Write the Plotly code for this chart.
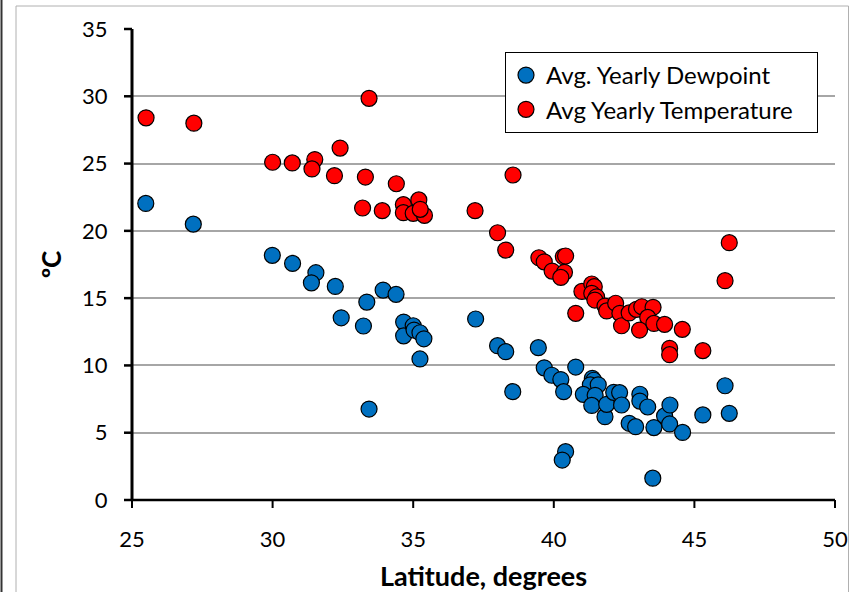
import plotly.graph_objects as go

# Avg Yearly Temperature (red)
temp_lat = [25.5, 27.2, 30.0, 30.7, 31.5, 31.4, 32.4, 32.2, 33.3, 34.4, 33.2, 33.9, 34.65, 35.2,
            34.65, 35.0, 35.4, 35.25, 37.2, 33.43, 38.55, 38.0, 38.29, 39.47, 39.66, 40.34, 40.42,
            39.94, 40.38, 40.25, 40.78, 41.0, 41.35, 41.44, 41.35, 41.52, 41.46, 41.82, 41.88, 42.2,
            42.35, 42.41, 42.68, 42.94, 43.13, 43.53, 43.34, 43.05, 43.56, 43.94, 44.57, 44.12,
            44.12, 45.3, 46.09, 46.24]
temp_val = [28.4, 28.0, 25.1, 25.05, 25.3, 24.6, 26.15, 24.1, 24.0, 23.5, 21.7, 21.5, 21.95, 22.3,
            21.35, 21.3, 21.15, 21.6, 21.5, 29.85, 24.15, 19.86, 18.57, 18.0, 17.7, 18.08, 18.13,
            17.01, 16.92, 16.54, 13.87, 15.5, 16.05, 15.85, 15.36, 15.1, 14.86, 14.41, 14.05, 14.62,
            13.87, 12.95, 13.9, 14.17, 14.36, 14.32, 13.57, 12.63, 13.12, 13.05, 12.68, 11.27,
            10.8, 11.1, 16.3, 19.12]

# Avg Yearly Dewpoint (blue)
dew_lat = [25.49, 27.18, 29.99, 30.71, 31.54, 31.38, 32.23, 33.35, 33.93, 34.39, 32.44, 33.23,
           34.66, 34.66, 35.0, 35.03, 35.24, 35.38, 35.24, 33.43, 37.22, 38.0, 38.29, 39.45, 39.66,
           39.93, 40.25, 40.35, 40.78, 38.54, 41.37, 41.42, 41.3, 41.58, 41.05, 41.47, 41.35,
           41.82, 41.88, 42.13, 42.34, 42.41, 42.68, 42.91, 43.06, 43.06, 43.34, 43.56, 43.94,
           44.13, 44.12, 44.58, 45.3, 46.09, 46.24, 40.42, 40.3, 43.52]
dew_val = [22.04, 20.5, 18.18, 17.58, 16.89, 16.14, 15.87, 14.71, 15.6, 15.28, 13.54, 12.93,
           13.22, 12.2, 12.95, 12.63, 12.43, 11.98, 10.48, 6.76, 13.45, 11.47, 11.02, 11.32, 9.82,
           9.27, 8.95, 8.05, 9.88, 8.05, 9.04, 8.9, 8.56, 8.56, 7.85, 7.78, 7.03,
           6.19, 7.11, 8.0, 7.98, 7.06, 5.7, 5.45, 7.86, 7.35, 6.91, 5.38, 6.25,
           7.06, 5.65, 5.02, 6.32, 8.49, 6.44, 3.59, 2.97, 1.62]

x_ticks = [25, 30, 35, 40, 45, 50]
y_ticks = [0, 5, 10, 15, 20, 25, 30, 35]
x_range = [25, 50]
y_range = [0, 35]

FONT = "Lato, 'Open Sans', sans-serif"
NBSP = "\u00a0"

fig = go.Figure()
fig.add_trace(go.Scatter(
    x=dew_lat, y=dew_val, mode="markers", name="Avg. Yearly Dewpoint",
    marker=dict(size=16, color="#0070C0", line=dict(color="black", width=1.2)),
))
fig.add_trace(go.Scatter(
    x=temp_lat, y=temp_val, mode="markers", name="Avg Yearly Temperature" + NBSP * 3,
    marker=dict(size=16, color="#FF0000", line=dict(color="black", width=1.2)),
))

L, R, T, B = 132, 15, 29, 92
W, H = 850, 592
pw, ph = W - L - R, H - T - B

def px2paper_x(px):
    return (px - L) / pw

def px2paper_y(py):
    return (H - B - py) / ph

def xfrac(v):
    return (v - x_range[0]) / (x_range[1] - x_range[0])

def yfrac(v):
    return (v - y_range[0]) / (y_range[1] - y_range[0])

shapes = [
    dict(type="rect", xref="paper", yref="paper",
         x0=px2paper_x(16), x1=px2paper_x(848.5), y0=px2paper_y(640), y1=px2paper_y(6),
         line=dict(color="#B0B0B0", width=1), fillcolor="rgba(0,0,0,0)", layer="below"),
    dict(type="line", xref="paper", yref="paper",
         x0=px2paper_x(1.5), x1=px2paper_x(1.5), y0=px2paper_y(592), y1=px2paper_y(0),
         line=dict(color="#333333", width=2)),
    # axis lines (domain-referenced so they are not clipped at the plot edge)
    dict(type="line", xref="x domain", yref="y domain", x0=0, x1=1, y0=0, y1=0,
         line=dict(color="black", width=2.5), layer="above"),
    dict(type="line", xref="x domain", yref="y domain", x0=0, x1=0, y0=0, y1=1,
         line=dict(color="black", width=3), layer="above"),
]
# tick marks (outside, 8 px)
for t in x_ticks:
    shapes.append(dict(type="line", xref="x domain", yref="y domain", ysizemode="pixel", yanchor=0,
                       x0=xfrac(t), x1=xfrac(t), y0=-8, y1=0,
                       line=dict(color="black", width=2), layer="above"))
for t in y_ticks:
    shapes.append(dict(type="line", xref="x domain", yref="y domain", xsizemode="pixel", xanchor=0,
                       y0=yfrac(t), y1=yfrac(t), x0=-8, x1=0,
                       line=dict(color="black", width=2.5), layer="above"))

fig.update_layout(
    width=W, height=H,
    margin=dict(l=L, r=R, t=T, b=B, pad=0, autoexpand=False),
    paper_bgcolor="white", plot_bgcolor="white",
    font=dict(family=FONT, size=22, color="black"),
    showlegend=True,
    legend=dict(
        x=px2paper_x(505), y=px2paper_y(52), xanchor="left", yanchor="top",
        bgcolor="white", bordercolor="black", borderwidth=1,
        font=dict(family=FONT, size=24, color="black"),
        itemsizing="trace",
    ),
    xaxis=dict(
        range=x_range, tickvals=x_ticks, ticktext=[str(v) for v in x_ticks], automargin=False,
        showgrid=False, zeroline=False, showline=False,
        ticks="outside", ticklen=20, tickcolor="rgba(0,0,0,0)",
        tickfont=dict(family=FONT, size=22),
        title=dict(text="<b>Latitude, degrees</b>", font=dict(family=FONT, size=27), standoff=20),
    ),
    yaxis=dict(
        range=y_range, tickvals=y_ticks, ticktext=[str(v) for v in y_ticks], automargin=False,
        showgrid=True, gridcolor="#A6A6A6", gridwidth=1.5, zeroline=False, showline=False,
        ticks="outside", ticklen=19, tickcolor="rgba(0,0,0,0)",
        tickfont=dict(family=FONT, size=22),
        title=dict(text="<b>ºC</b>", font=dict(family=FONT, size=26), standoff=12),
    ),
    shapes=shapes,
)

fig.write_html("out.html")
